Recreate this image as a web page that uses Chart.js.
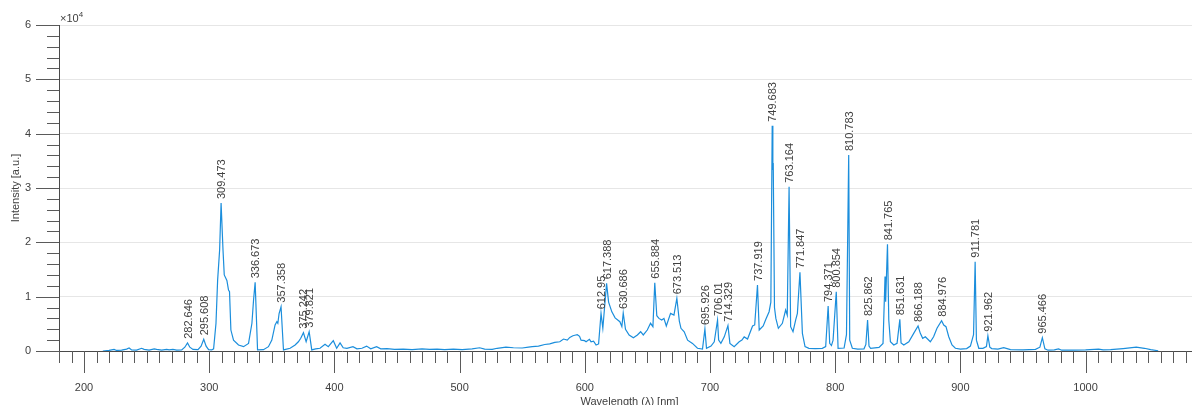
<!DOCTYPE html>
<html>
<head>
<meta charset="utf-8">
<script src="https://cdn.jsdelivr.net/npm/chart.js@4"></script>
<style>
  html, body { margin: 0; padding: 0; background: #fff; overflow: hidden; }
  canvas { display: block; }
</style>
</head>
<body>
<canvas id="spectrum" width="1192" height="405"></canvas>
<script>
// Labelled emission lines: wavelength [nm] and peak intensity [a.u.]
const peakWavelengths = [282.646, 295.608, 309.473, 336.673, 357.358, 375.242, 379.821,
  612.95, 617.388, 630.686, 655.884, 673.513, 695.926, 706.01, 714.329, 737.919,
  749.683, 763.164, 771.847, 794.371, 800.854, 810.783, 825.862, 841.765, 851.631,
  866.188, 884.976, 911.781, 921.962, 965.466];
const peakIntensities = [1500, 2150, 27230, 12640, 8150, 3370, 3550,
  6930, 12450, 7000, 12570, 9700, 4050, 5700, 4660, 12150,
  41450, 30230, 14480, 8280, 10900, 36060, 5700, 19630, 5830,
  4600, 5580, 16430, 2820, 2450];

// Remaining spectrum samples between the labelled lines
const bgWavelengths = [215, 220, 224, 226, 230, 234, 236, 238, 242, 246, 248, 252, 256, 258, 262,
  266, 268, 271, 274, 278, 280.5, 284.5, 287, 291, 293.5, 297.5, 299.5, 302, 303.5, 305.4,
  306.7, 308.3, 311, 312, 314.1, 315.4, 316.2, 317.3, 319.4, 323.4, 327.4, 331.4, 334.1, 335.4,
  338.6, 343.3, 347.3, 350, 352.6, 354, 354.8, 355.8, 359.3, 364.6, 368.6, 371.2, 373.1,
  377.4, 381.9, 385, 388.5, 392.5, 395.1, 399.1, 401.8, 404.5, 407, 410, 414.8, 418, 422,
  425.7, 429, 433.7, 437, 442, 448, 455, 462, 470, 476, 482, 488, 495, 502, 510, 516, 520,
  526, 530, 537, 543, 550, 555, 558, 563, 568, 572, 576, 580, 583, 586, 588, 590.5, 592,
  594, 595.8, 597, 599.8, 601, 603.7, 605, 607, 609, 611, 614.4, 619, 621.6, 624.2, 628,
  629.6, 632.5, 635.4, 638.8, 642, 644.6, 646.7, 649.9, 652.5, 654.4, 657.5, 659.2, 661.4,
  663.2, 665.1, 668.5, 671.2, 675.5, 676.8, 679.4, 682.1, 686, 690, 694, 697.2, 700.8,
  703.4, 706.9, 708.7, 711.4, 715.9, 719.3, 723.3, 725.5, 727.3, 730, 734, 735.7, 739.3,
  742.5, 744.6, 747.2, 748.6, 750.2, 750.5, 751.5, 752.6, 754.6, 757.8, 760.4, 761.7,
  764.4, 766.3, 768.4, 769.8, 773.8, 775.9, 779, 784, 789.7, 792.4, 795.6, 797, 798.3,
  802.3, 807.1, 809, 811.6, 813.7, 818, 823, 824.5, 827, 828.3, 835, 838.2, 839.8, 840.3,
  842.8, 844.1, 846.8, 849.4, 852.6, 854.8, 858.8, 862.7, 868, 869.9, 872, 876, 878.6,
  881.3, 886.7, 888.5, 890.7, 893.3, 896, 900, 905, 908, 910.5, 912.8, 914.7, 918, 920.8,
  923.5, 925, 930, 934.6, 940, 950, 960, 963.5, 967.5, 970, 975, 978.4, 981, 990, 1000,
  1010.4, 1014, 1020, 1030, 1040.5, 1047, 1052, 1058];
const bgIntensities = [0, 100, 300, 100, 150, 350, 550, 200, 150, 500, 300, 150, 400, 300, 150,
  300, 200, 300, 150, 200, 700, 700, 300, 250, 900, 900, 250, 200, 400, 5100,
  13000, 18600, 18600, 14000, 13000, 11200, 10900, 3860, 2000, 1100, 800, 1400, 5100, 9400,
  200, 250, 800, 2000, 4800, 5400, 5100, 6900, 200, 500, 1100, 1700, 2340,
  1700, 200, 400, 500, 1230, 800, 1900, 500, 1500, 600, 500, 800, 400, 500,
  900, 400, 800, 400, 450, 300, 350, 250, 400, 300, 350, 250, 350, 250, 400, 600, 350,
  300, 500, 700, 600, 550, 700, 800, 900, 1200, 1300, 1600, 1700, 2200, 2000, 2500, 2800, 2900,
  3000, 2700, 2000, 1900, 1700, 2150, 1700, 1800, 1100, 1300, 4200, 9000, 7200, 6100, 5400,
  4500, 4000, 2950, 2450, 2950, 3550, 2950, 3860, 5100, 4470, 6500, 6000, 5700,
  6000, 4600, 6930, 6620, 5500, 4180, 3550, 2000, 1400, 500, 370, 500, 920,
  1700, 2000, 1400, 2600, 1400, 800, 1700, 2000, 2600, 2200, 4600, 4800, 3860,
  4600, 5830, 7230, 9000, 33300, 34600, 8000, 6000, 4180, 5100, 7540, 6620,
  4470, 3550, 5700, 6930, 3250, 800, 500, 450, 500, 800, 1400, 1000, 2000,
  500, 550, 3000, 2000, 500, 350, 400, 1200, 900, 500, 680, 1400, 13700, 9070,
  5700, 1700, 1100, 1400, 1500, 1100, 1700, 3250, 3250, 2340, 2630, 1700, 2630,
  4180, 4780, 4470, 2630, 1100, 500, 350, 450, 900, 3000, 2000, 500, 500, 800,
  700, 450, 350, 600, 250, 200, 300, 700, 400, 150, 200, 400, 150, 150, 200,
  350, 200, 250, 450, 700, 500, 250, 50];

// Axis ticks: labelled majors and unlabelled minors
const xMajorTicks = [200, 300, 400, 500, 600, 700, 800, 900, 1000];
const xMinorStep = 10;
const yMajorTicks = [0, 10000, 20000, 30000, 40000, 50000, 60000];
const yMinorStep = 2000;
const yScaleFactor = 10000;

const spectrum = bgWavelengths.map((w, i) => ({ x: w, y: bgIntensities[i] }))
  .concat(peakWavelengths.map((w, i) => ({ x: w, y: peakIntensities[i] })))
  .sort((a, b) => a.x - b.x);

const FONT = '"Liberation Sans", Arial, Helvetica, sans-serif';
const TEXT = '#404040';

function noEdgePadding(s) {
  s.paddingLeft = 0;
  s.paddingRight = 0;
  s.paddingTop = 0;
  s.paddingBottom = 0;
}

// Outward tick marks, exponent note, axis titles
const axisDecor = {
  id: 'axisDecor',
  afterDraw(chart) {
    const { ctx, chartArea: a, scales: { x, y } } = chart;
    ctx.save();
    ctx.strokeStyle = '#5a5a5a';
    ctx.lineWidth = 1;
    ctx.beginPath();
    x.ticks.forEach(t => {
      const px = Math.round(x.getPixelForValue(t.value)) + 0.5;
      const len = xMajorTicks.includes(t.value) ? 22 : 12;
      ctx.moveTo(px, a.bottom);
      ctx.lineTo(px, a.bottom + len);
    });
    y.ticks.forEach(t => {
      const py = Math.round(y.getPixelForValue(t.value)) + 0.5;
      const len = yMajorTicks.includes(t.value) ? 23 : 12;
      ctx.moveTo(a.left - len, py);
      ctx.lineTo(a.left, py);
    });
    ctx.stroke();

    ctx.fillStyle = TEXT;
    // ×10^4 exponent above the y axis
    ctx.font = '11px ' + FONT;
    ctx.textAlign = 'left';
    ctx.textBaseline = 'alphabetic';
    ctx.fillText('\u00d710', a.left + 1, a.top - 3);
    const w = ctx.measureText('\u00d710').width;
    ctx.font = '8px ' + FONT;
    ctx.fillText('4', a.left + 1 + w, a.top - 8);

    // axis titles
    ctx.font = '11px ' + FONT;
    ctx.textAlign = 'center';
    ctx.fillText('Wavelength (\u03bb) [nm]', (a.left + a.right) / 2 + 4, 405);
    ctx.save();
    ctx.translate(19, (a.top + a.bottom) / 2);
    ctx.rotate(-Math.PI / 2);
    ctx.textBaseline = 'alphabetic';
    ctx.fillText('Intensity [a.u.]', 0, 0);
    ctx.restore();
    ctx.restore();
  }
};

// Vertical wavelength labels above each identified line
const peakLabels = {
  id: 'peakLabels',
  afterDatasetsDraw(chart) {
    const { ctx, scales: { x, y } } = chart;
    ctx.save();
    ctx.fillStyle = TEXT;
    ctx.font = '11px ' + FONT;
    ctx.textAlign = 'left';
    ctx.textBaseline = 'middle';
    peakWavelengths.forEach((wl, i) => {
      const px = x.getPixelForValue(wl) + 1;
      const py = y.getPixelForValue(peakIntensities[i]) - 4;
      ctx.save();
      ctx.translate(px, py);
      ctx.rotate(-Math.PI / 2);
      ctx.fillText(String(wl), 0, 0);
      ctx.restore();
    });
    ctx.restore();
  }
};

new Chart(document.getElementById('spectrum'), {
  type: 'line',
  data: {
    datasets: [{
      data: spectrum,
      borderColor: '#1b8edc',
      borderWidth: 1.2,
      pointRadius: 0,
      tension: 0,
      fill: false
    }]
  },
  options: {
    responsive: false,
    animation: false,
    devicePixelRatio: 1,
    layout: { padding: { left: 0, right: 0, top: 25, bottom: 0 } },
    plugins: { legend: { display: false }, tooltip: { enabled: false } },
    scales: {
      x: {
        type: 'linear',
        min: 180,
        max: 1085,
        afterFit(s) { s.height = 54; noEdgePadding(s); },
        afterBuildTicks(s) {
          const t = [];
          for (let v = 180; v <= 1080; v += xMinorStep) t.push({ value: v });
          s.ticks = t;
        },
        ticks: {
          autoSkip: false,
          maxRotation: 0,
          padding: 30,
          color: TEXT,
          font: { family: FONT, size: 11 },
          callback: v => xMajorTicks.includes(v) ? String(v) : ''
        },
        grid: { display: true, drawOnChartArea: false, drawTicks: false },
        border: { display: true, color: '#4a4a4a', width: 1 }
      },
      y: {
        min: 0,
        max: 60000,
        afterFit(s) { s.width = 59; noEdgePadding(s); },
        afterBuildTicks(s) {
          const t = [];
          for (let v = 0; v <= 60000; v += yMinorStep) t.push({ value: v });
          s.ticks = t;
        },
        ticks: {
          autoSkip: false,
          padding: 28,
          color: TEXT,
          font: { family: FONT, size: 11 },
          callback: v => yMajorTicks.includes(v) ? String(v / yScaleFactor) : ''
        },
        grid: {
          drawTicks: false,
          color: c => (c.tick && yMajorTicks.includes(c.tick.value)) ? '#e6e6e6' : 'rgba(0,0,0,0)'
        },
        border: { display: true, color: '#4a4a4a', width: 1 }
      }
    }
  },
  plugins: [axisDecor, peakLabels]
});
</script>
</body>
</html>
